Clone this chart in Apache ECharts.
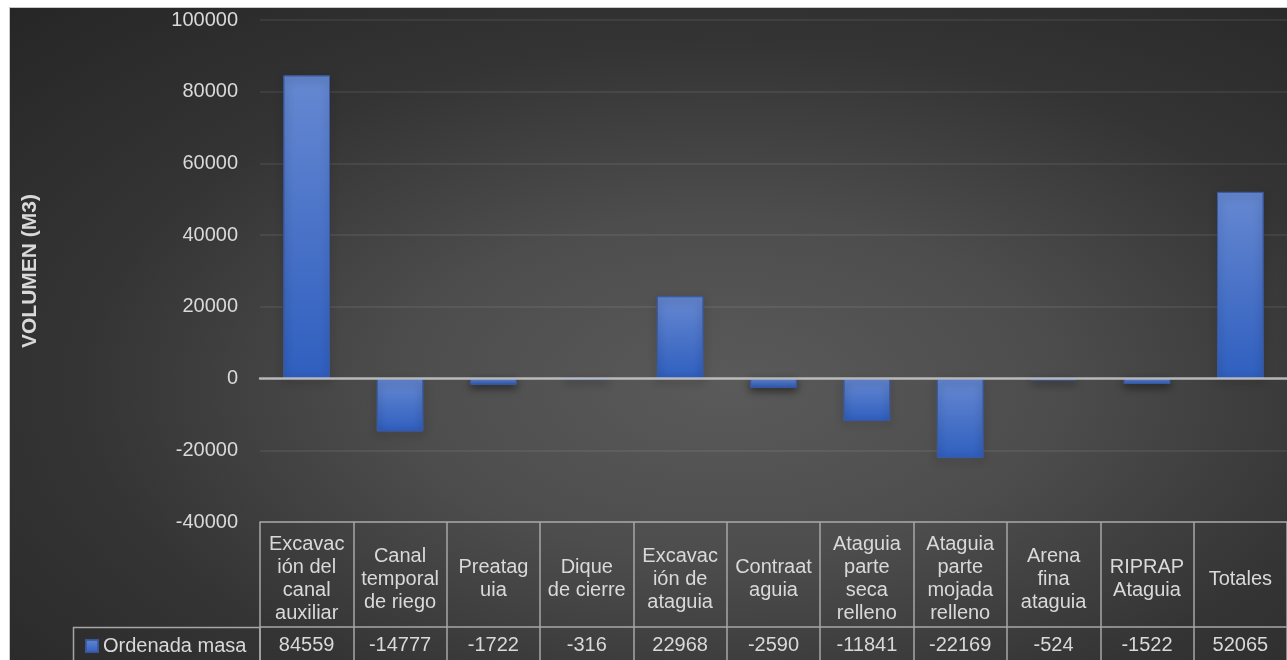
<!DOCTYPE html>
<html>
<head>
<meta charset="utf-8">
<script src="https://cdn.jsdelivr.net/npm/echarts@6/dist/echarts.min.js"></script>
<style>
  html, body { margin: 0; padding: 0; background: #ffffff; }
  #chart {
    position: absolute;
    left: 9px;
    top: 7px;
    width: 1278px;
    height: 653px;
    background: radial-gradient(ellipse at 56% 58%, #5a5a5a 0%, #4d4d4d 32%, #343434 64%, #262626 100%);
    border-left: 1px solid #c8c8c8;
    border-top: 1px solid #c8c8c8;
    box-sizing: border-box;
  }
</style>
</head>
<body>
<div id="chart"></div>
<script>
  // categories (wrapped as in the data table)
  const categories = [
    'Excavac\nión del\ncanal\nauxiliar',
    'Canal\ntemporal\nde riego',
    'Preatag\nuia',
    'Dique\nde cierre',
    'Excavac\nión de\nataguia',
    'Contraat\naguia',
    'Ataguia\nparte\nseca\nrelleno',
    'Ataguia\nparte\nmojada\nrelleno',
    'Arena\nfina\nataguia',
    'RIPRAP\nAtaguia',
    'Totales'
  ]
  const seriesName = 'Ordenada masa'
  const values = [84559, -14777, -1722, -316, 22968, -2590, -11841, -22169, -524, -1522, 52065]
  const yTicks = { min: -40000, max: 100000, interval: 20000 }

  const textColor = '#d9d9d9'
  const tableLine = '#a6a6a6'
  const font = 'Liberation Sans, Arial, sans-serif'

  const barGradient = new echarts.graphic.LinearGradient(0, 0, 0, 1, [
    { offset: 0, color: '#6688d1' },
    { offset: 1, color: '#2f5fbf' }
  ])

  const chart = echarts.init(document.getElementById('chart'), null, { renderer: 'canvas' })

  const option = {
    backgroundColor: 'transparent',
    textStyle: { fontFamily: font },
    grid: { left: 250, right: 0, top: 12, bottom: 138, containLabel: false },
    legend: {
      data: [seriesName],
      left: 70,
      top: 623,
      icon: 'rect',
      itemWidth: 12,
      itemHeight: 12,
      itemGap: 0,
      textStyle: { color: textColor, fontSize: 20, fontFamily: font }
    },
    graphic: [
      {
        type: 'rect',
        shape: { x: 63.5, y: 619.5, width: 186.5, height: 40 },
        style: { fill: 'none', stroke: tableLine, lineWidth: 1.5 },
        silent: true
      }
    ],
    xAxis: [
      {
        // header row of the data table
        type: 'category',
        data: categories,
        position: 'bottom',
        axisLine: { show: true, onZero: false, lineStyle: { color: tableLine, width: 1.5 } },
        axisTick: { show: true, interval: 0, length: 140, lineStyle: { color: tableLine, width: 1.5 } },
        axisLabel: {
          interval: 0,
          color: textColor,
          fontSize: 20,
          lineHeight: 23,
          fontFamily: font,
          margin: 57,
          verticalAlign: 'middle',
          align: 'center'
        },
        splitLine: { show: false }
      },
      {
        // zero line
        type: 'category',
        data: categories,
        position: 'bottom',
        z: 5,
        axisLine: { show: true, onZero: true, lineStyle: { color: 'rgba(210,210,210,0.8)', width: 2.5 } },
        axisTick: { show: false },
        axisLabel: { show: false }
      },
      {
        // values row of the data table
        type: 'category',
        data: values.map(v => String(v)),
        position: 'bottom',
        offset: 105,
        axisLine: { show: true, onZero: false, lineStyle: { color: tableLine, width: 1.5 } },
        axisTick: { show: false },
        axisLabel: {
          interval: 0,
          color: textColor,
          fontSize: 20,
          fontFamily: font,
          margin: 18,
          verticalAlign: 'middle'
        }
      }
    ],
    yAxis: {
      type: 'value',
      min: yTicks.min,
      max: yTicks.max,
      interval: yTicks.interval,
      name: 'VOLUMEN (M3)',
      nameLocation: 'middle',
      nameRotate: 90,
      nameGap: 219,
      nameTextStyle: { color: textColor, fontSize: 21, fontWeight: 'bold', fontFamily: font },
      axisLine: { show: false },
      axisTick: { show: false },
      axisLabel: {
        color: textColor,
        fontSize: 20,
        fontFamily: font,
        margin: 22,
        formatter: v => String(v)
      },
      splitLine: { lineStyle: { color: 'rgba(255,255,255,0.09)', width: 1.5 } }
    },
    series: [
      {
        name: seriesName,
        type: 'bar',
        xAxisIndex: 0,
        data: values,
        barWidth: '50%',
        itemStyle: {
          color: barGradient,
          borderColor: 'rgba(60,90,160,0.9)',
          borderWidth: 1,
          shadowColor: 'rgba(0,0,0,0.55)',
          shadowBlur: 8,
          shadowOffsetY: 3
        }
      }
    ]
  }

  chart.setOption(option)
</script>
</body>
</html>
